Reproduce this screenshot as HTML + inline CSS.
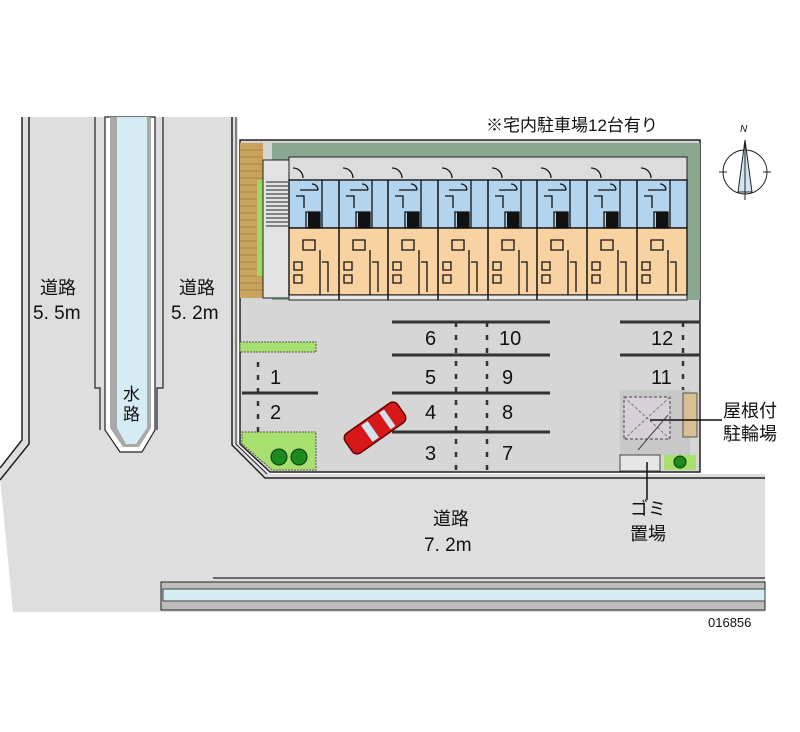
<!DOCTYPE html>
<html><head><meta charset="utf-8"><style>
body{margin:0;background:#fff;}
svg text{font-family:"Liberation Sans","Noto Sans CJK JP",sans-serif;fill:#111;}
</style></head><body>
<svg width="800" height="727" viewBox="0 0 800 727" xmlns="http://www.w3.org/2000/svg">
<rect width="800" height="727" fill="#fff"/>
<path d="M22,117 L238,117 L238,445 L270,474 L765,474 L765,612 L13,612 L0,478 L0,468 L22,440 Z" fill="#dedede"/>
<path d="M22,117 V440 L0,468" fill="none" stroke="#222" stroke-width="1.5"/>
<path d="M29,117 V444 L0,480" fill="none" stroke="#222" stroke-width="1.5"/>
<path d="M95,117 V388 H100 V430" fill="none" stroke="#222" stroke-width="1.2"/>
<path d="M163,117 V388 H157 V430" fill="none" stroke="#222" stroke-width="1.2"/>
<path d="M105,117 V430 L120,452 L142,452 L155,430 V117 Z" fill="#fff" stroke="#222" stroke-width="1.2"/>
<path d="M110,117 V428 L123,447 L139,447 L151,428 V117 Z" fill="#a9a9a9"/>
<path d="M117,117 V428 L126,444 L136,444 L147,428 V117 Z" fill="#d6ecf4"/>
<path d="M232,117 V445 L265,478 L765,478" fill="none" stroke="#222" stroke-width="1.5"/>
<path d="M236,117 V444 L267,474" fill="none" stroke="#222" stroke-width="1"/>
<path d="M240,140 H700 V472 H270 L240,444 Z" fill="#d6d6d6" stroke="#222" stroke-width="1.5"/>
<rect x="272" y="143" width="428" height="157" fill="#8aa890"/>
<rect x="240" y="143" width="23" height="155" fill="#c9a25c"/>
<g stroke="#8a6a30" stroke-width="0.6">
<path d="M240,150H263M240,157H263M240,164H263M240,171H263M240,178H263M240,185H263M240,192H263M240,199H263M240,206H263M240,213H263M240,220H263M240,227H263M240,234H263M240,241H263M240,248H263M240,255H263M240,262H263M240,269H263M240,276H263M240,283H263M240,290H263"/>
</g>
<rect x="257" y="180" width="6" height="96" fill="#9fd860"/>
<rect x="263" y="160" width="26" height="138" fill="#e3e3e3" stroke="#222"/>
<g stroke="#222" stroke-width="1"><path d="M266,182H288M266,186H288M266,190H288M266,194H288M266,198H288M266,202H288M266,206H288M266,210H288M266,214H288M266,218H288M266,222H288M266,226H288"/></g>
<rect x="289" y="157" width="398" height="23" fill="#dcdcdc" stroke="#222"/>
<rect x="289" y="180" width="398" height="48" fill="#b2d4ef" stroke="#222" stroke-width="1.5"/>
<rect x="289" y="228" width="398" height="67" fill="#f8d3a1" stroke="#222" stroke-width="1.5"/>
<rect x="289" y="295" width="398" height="5" fill="#e8e8e8" stroke="#222"/>
<g fill="none" stroke="#111" stroke-width="1.5">
<path d="M339,180V300M388,180V300M438,180V300M488,180V300M537,180V300M587,180V300M637,180V300"/>
</g>
<g id="unit">
<path d="M293,168 a10,10 0 0 1 10,10 M300,190h18 M306,212h14v16h-14z M322,180v48 M303,240h12v10h-12z M320,250v45 M294,262h8v8h-8z M294,275h8v8h-8z M322,262h6v30 M296,196h8v12 M312,184a6,6 0 0 1 6,6" fill="none" stroke="#111" stroke-width="1.3"/>
<rect x="308" y="212" width="12" height="16" fill="#111"/>
</g>
<use href="#unit" x="50"/><use href="#unit" x="99"/><use href="#unit" x="149"/><use href="#unit" x="199"/><use href="#unit" x="248"/><use href="#unit" x="298"/><use href="#unit" x="348"/>
<rect x="240" y="342" width="76" height="10" fill="#a8e070" stroke="#555" stroke-dasharray="2,1"/>
<path d="M242,432 H316 V470 H272 L242,444 Z" fill="#a8e070" stroke="#555" stroke-dasharray="2,1"/>
<circle cx="279" cy="457" r="8" fill="#1d8a20" stroke="#0a3a0a"/><circle cx="299" cy="457" r="8" fill="#1d8a20" stroke="#0a3a0a"/>
<g stroke="#333" stroke-width="3">
<path d="M392,322H550M392,355H550M392,393H550M392,432H550M620,322H700M620,355H700M242,393H318"/>
</g>
<g stroke="#333" stroke-width="2.5" stroke-dasharray="5,8">
<path d="M456,322V470M487,322V470M683,322V392M258,362V432"/>
</g>
<g font-size="20">
<text x="425" y="345">6</text><text x="499" y="345">10</text><text x="651" y="345">12</text>
<text x="425" y="384">5</text><text x="502" y="384">9</text><text x="651" y="384">11</text>
<text x="425" y="419">4</text><text x="502" y="419">8</text>
<text x="425" y="460">3</text><text x="502" y="460">7</text>
<text x="270" y="384">1</text><text x="270" y="419">2</text>
</g>
<g transform="translate(375,428) rotate(-35)">
<rect x="-32" y="-12" width="64" height="24" rx="6" fill="#d81818" stroke="#600" stroke-width="1.5"/>
<rect x="-10" y="-10" width="8" height="20" fill="#d0e4ee"/><rect x="12" y="-10" width="6" height="20" fill="#d0e4ee"/>
</g>
<rect x="620" y="390" width="70" height="65" fill="#c8c8c8"/>
<rect x="624" y="397" width="46" height="42" fill="#d8d0d8" stroke="#444" stroke-dasharray="3,2"/>
<path d="M624,397L670,439M670,397L624,439" stroke="#777" stroke-dasharray="3,2"/>
<rect x="683" y="393" width="14" height="44" fill="#d8c090" stroke="#555"/>
<rect x="620" y="455" width="40" height="16" fill="#e6e6e6" stroke="#444"/>
<rect x="664" y="455" width="32" height="15" fill="#a8e070"/><circle cx="680" cy="462" r="6" fill="#1d8a20" stroke="#0a3a0a"/>
<path d="M650,420H722" stroke="#111" stroke-width="1.5"/>
<path d="M647,462V500" stroke="#111" stroke-width="1.5"/>
<path d="M638,450L668,415" stroke="#444"/>
<path d="M213,578H765" stroke="#222" stroke-width="1.2"/>
<rect x="161" y="582" width="604" height="28" fill="#bdbdbd" stroke="#222"/>
<rect x="163" y="589" width="602" height="12" fill="#d6ecf4" stroke="#444"/>
<g transform="translate(745,172)">
<circle r="22" fill="none" stroke="#222"/>
<path d="M-26,0H-18M18,0H26" stroke="#222"/>
<path d="M0,-32 L-7,20 L7,20 Z" fill="#cfe6f2" stroke="#222"/>
<path d="M0,-32V28" stroke="#222"/>
<text x="-5" y="-40" font-size="10" font-style="italic">N</text>
</g>
<text x="486" y="131" font-size="17">※宅内駐車場12台有り</text>
<text x="40" y="294" font-size="18">道路</text><text x="33" y="319" font-size="19">5. 5m</text>
<text x="179" y="294" font-size="18">道路</text><text x="171" y="319" font-size="19">5. 2m</text>
<text x="123" y="400" font-size="17">水</text><text x="123" y="420" font-size="17">路</text>
<text x="433" y="525" font-size="18">道路</text><text x="424" y="551" font-size="19">7. 2m</text>
<text x="630" y="515" font-size="18">ゴミ</text><text x="630" y="540" font-size="18">置場</text>
<text x="723" y="417" font-size="18">屋根付</text><text x="723" y="440" font-size="18">駐輪場</text>
<text x="708" y="627" font-size="13">016856</text>
</svg>
</body></html>
